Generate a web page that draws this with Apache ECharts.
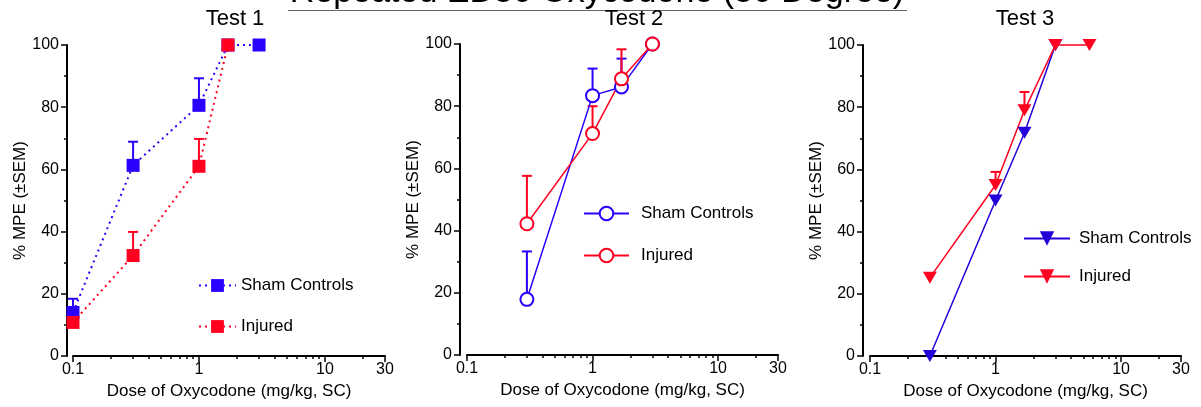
<!DOCTYPE html>
<html lang="en">
<head>
    <meta charset="UTF-8">
    <title>Repeated ED50 Oxycodone</title>
    <script src="https://cdn.jsdelivr.net/npm/echarts@6/dist/echarts.min.js"></script>
    <style>
        html, body { margin: 0; padding: 0; background: #fff; }
        #chart { width: 1201px; height: 407px; }
    </style>
</head>
<body>
<div id="chart"></div>
<script>
    // x ticks (dose, mg/kg), drawn on a log10 value axis
    var xTickValues = [0.1, 1, 10, 30];
    var xTickLabels = ['0.1', '1', '10', '30'];
    var xMinorTicks = [0.2, 0.3, 0.4, 0.5, 0.6, 0.7, 0.8, 0.9, 2, 3, 4, 5, 6, 7, 8, 9, 20];

    // Test 1
    var doses1Sham = [0.1, 0.3, 1, 1.7, 3];
    var sham1 = [14, 61.3, 80.6, 100, 100];
    var sham1Err = [18.4, 68.9, 89.3, null, null];
    var doses1Inj = [0.1, 0.3, 1, 1.7];
    var inj1 = [10.8, 32.3, 61, 100];
    var inj1Err = [null, 39.9, 69.8, null];

    // Test 2
    var doses2 = [0.3, 1, 1.7, 3];
    var sham2 = [17.9, 83.4, 86.2, 100];
    var sham2Err = [33.3, 92.1, 95.3, null];
    var inj2 = [42.2, 71.2, 88.8, 100];
    var inj2Err = [57.6, 80, 98.3, null];

    // Test 3
    var doses3Sham = [0.3, 1, 1.7, 3];
    var sham3 = [0, 50, 71.8, 100];
    var doses3Inj = [0.3, 1, 1.7, 3, 5.6];
    var inj3 = [25.2, 55, 79, 100, 100];
    var inj3Err = [null, 59.2, 84.9, null, null];

    var BLUE = '#2a00ff';
    var BLUE3 = '#2400d8';
    var RED = '#ff0020';
    var FONT = "'Liberation Sans', Arial, Helvetica, sans-serif";

    function pts(doses, vals) {
        var out = [];
        for (var i = 0; i < doses.length; i++) {
            out.push([Math.log10(doses[i]), vals[i]]);
        }
        return out;
    }
    function errPts(doses, vals, tops) {
        var out = [];
        for (var i = 0; i < doses.length; i++) {
            if (tops[i] != null) out.push([Math.log10(doses[i]), vals[i], tops[i]]);
        }
        return out;
    }
    function xLabel(v) {
        for (var i = 0; i < xTickValues.length; i++) {
            if (Math.abs(Math.log10(xTickValues[i]) - v) < 1e-6) return xTickLabels[i];
        }
        return '';
    }

    var grids = [
        {left: 73, top: 45, width: 312, height: 311},
        {left: 467, top: 44, width: 311, height: 311},
        {left: 870, top: 45, width: 311, height: 311}
    ];
    var yOffsets = [6, 7, 7];

    var xAxes = [], yAxes = [];
    for (var g = 0; g < 3; g++) {
        xAxes.push({
            type: 'value', gridIndex: g, position: 'bottom',
            min: -1, max: Math.log10(30),
            name: 'Dose of Oxycodone (mg/kg, SC)', nameLocation: 'middle', nameGap: 27,
            nameTextStyle: {fontSize: 17, color: '#000', fontFamily: FONT},
            axisLine: {onZero: false, lineStyle: {color: '#000', width: 2}},
            axisTick: {customValues: xTickValues.map(Math.log10), length: 6, lineStyle: {color: '#000', width: 1.5}},
            axisLabel: {customValues: xTickValues.map(Math.log10), formatter: xLabel, margin: 6,
                fontSize: 16, color: '#000', fontFamily: FONT},
            splitLine: {show: false}
        });
        xAxes.push({
            type: 'value', gridIndex: g, position: 'bottom',
            min: -1, max: Math.log10(30),
            axisLine: {show: false, onZero: false},
            axisTick: {customValues: xMinorTicks.map(Math.log10), length: 3, lineStyle: {color: '#000', width: 1.5}},
            axisLabel: {show: false},
            splitLine: {show: false}
        });
        yAxes.push({
            type: 'value', gridIndex: g, position: 'left', offset: yOffsets[g],
            min: 0, max: 100, interval: 20,
            name: '% MPE (\u00b1SEM)', nameLocation: 'middle', nameGap: 33,
            nameTextStyle: {fontSize: 17, color: '#000', fontFamily: FONT},
            axisLine: {show: true, onZero: false, lineStyle: {color: '#000', width: 2}},
            axisTick: {show: true, length: 6, lineStyle: {color: '#000', width: 1.5}},
            minorTick: {show: true, splitNumber: 2, length: 3, lineStyle: {color: '#000', width: 1.5}},
            axisLabel: {margin: 8, fontSize: 16, color: '#000', fontFamily: FONT},
            splitLine: {show: false}
        });
    }

    function errSeries(g, data, color) {
        return {
            type: 'custom', xAxisIndex: 2 * g, yAxisIndex: g, z: 1, silent: true,
            data: data,
            renderItem: function (params, api) {
                var x = api.value(0);
                var p0 = api.coord([x, api.value(1)]);
                var p1 = api.coord([x, api.value(2)]);
                var st = {stroke: color, lineWidth: 2};
                return {type: 'group', children: [
                    {type: 'line', shape: {x1: p0[0], y1: p0[1], x2: p1[0], y2: p1[1]}, style: st},
                    {type: 'line', shape: {x1: p1[0] - 5, y1: p1[1], x2: p1[0] + 5, y2: p1[1]}, style: st}
                ]};
            }
        };
    }
    function lineSeries(g, name, data, color, opts) {
        return {
            type: 'line', name: name, xAxisIndex: 2 * g, yAxisIndex: g, z: 2, clip: false,
            data: data, symbol: opts.symbol, symbolSize: opts.size, symbolRotate: opts.rotate || 0,
            itemStyle: {color: color, borderColor: color, borderWidth: opts.border || 0},
            lineStyle: {color: color, width: opts.width, type: opts.dash || 'solid'}
        };
    }

    var dotted = [2, 4];
    var series = [
        errSeries(0, errPts(doses1Sham, sham1, sham1Err), BLUE),
        errSeries(0, errPts(doses1Inj, inj1, inj1Err), RED),
        lineSeries(0, 'Sham Controls#1', pts(doses1Sham, sham1), BLUE, {symbol: 'rect', size: 13, width: 2, dash: dotted}),
        lineSeries(0, 'Injured#1', pts(doses1Inj, inj1), RED, {symbol: 'rect', size: 13, width: 2, dash: dotted}),

        errSeries(1, errPts(doses2, sham2, sham2Err), BLUE),
        errSeries(1, errPts(doses2, inj2, inj2Err), RED),
        lineSeries(1, 'Sham Controls#2', pts(doses2, sham2), BLUE, {symbol: 'emptyCircle', size: 13, width: 1.5, border: 1}),
        lineSeries(1, 'Injured#2', pts(doses2, inj2), RED, {symbol: 'emptyCircle', size: 13, width: 1.5, border: 1}),

        errSeries(2, errPts(doses3Inj, inj3, inj3Err), RED),
        lineSeries(2, 'Sham Controls#3', pts(doses3Sham, sham3), BLUE3, {symbol: 'triangle', size: [14, 12], rotate: 180, width: 1.5}),
        lineSeries(2, 'Injured#3', pts(doses3Inj, inj3), RED, {symbol: 'triangle', size: [14, 12], rotate: 180, width: 1.5})
    ];

    function legend(n, left, top, itemW, itemH, gap, pad) {
        return {
            orient: 'vertical', left: left, top: top, padding: 0,
            itemWidth: itemW, itemHeight: itemH, itemGap: gap, selectedMode: false,
            data: ['Sham Controls#' + n, 'Injured#' + n],
            formatter: function (name) { return name.split('#')[0]; },
            textStyle: {fontSize: 17, color: '#000', fontFamily: FONT, padding: [0, 0, 0, pad]}
        };
    }

    var option = {
        animation: false,
        backgroundColor: '#fff',
        grid: grids,
        xAxis: xAxes,
        yAxis: yAxes,
        legend: [
            legend(1, 198, 277, 37, 16, 24, 0),
            legend(2, 583, 205, 45, 17, 25, 7),
            legend(3, 1023, 230, 46, 18, 21, 4)
        ],
        graphic: [
            {type: 'text', x: 597, y: 10, style: {text: 'Repeated ED50 Oxycodone (50 Degree)', fontSize: 34,
                fontFamily: FONT, fill: '#000', align: 'center', verticalAlign: 'bottom',
                textAlign: 'center', textVerticalAlign: 'bottom'}},
            {type: 'line', shape: {x1: 288, y1: 10.5, x2: 907, y2: 10.5}, style: {stroke: '#666', lineWidth: 1}},
            {type: 'text', x: 235, y: 19, style: {text: 'Test 1', fontSize: 22, fontFamily: FONT, fill: '#000',
                align: 'center', verticalAlign: 'middle', textAlign: 'center', textVerticalAlign: 'middle'}},
            {type: 'text', x: 634, y: 19, style: {text: 'Test 2', fontSize: 22, fontFamily: FONT, fill: '#000',
                align: 'center', verticalAlign: 'middle', textAlign: 'center', textVerticalAlign: 'middle'}},
            {type: 'text', x: 1025, y: 19, style: {text: 'Test 3', fontSize: 22, fontFamily: FONT, fill: '#000',
                align: 'center', verticalAlign: 'middle', textAlign: 'center', textVerticalAlign: 'middle'}}
        ],
        series: series
    };

    var chart = echarts.init(document.getElementById('chart'));
    chart.setOption(option);
</script>
</body>
</html>
